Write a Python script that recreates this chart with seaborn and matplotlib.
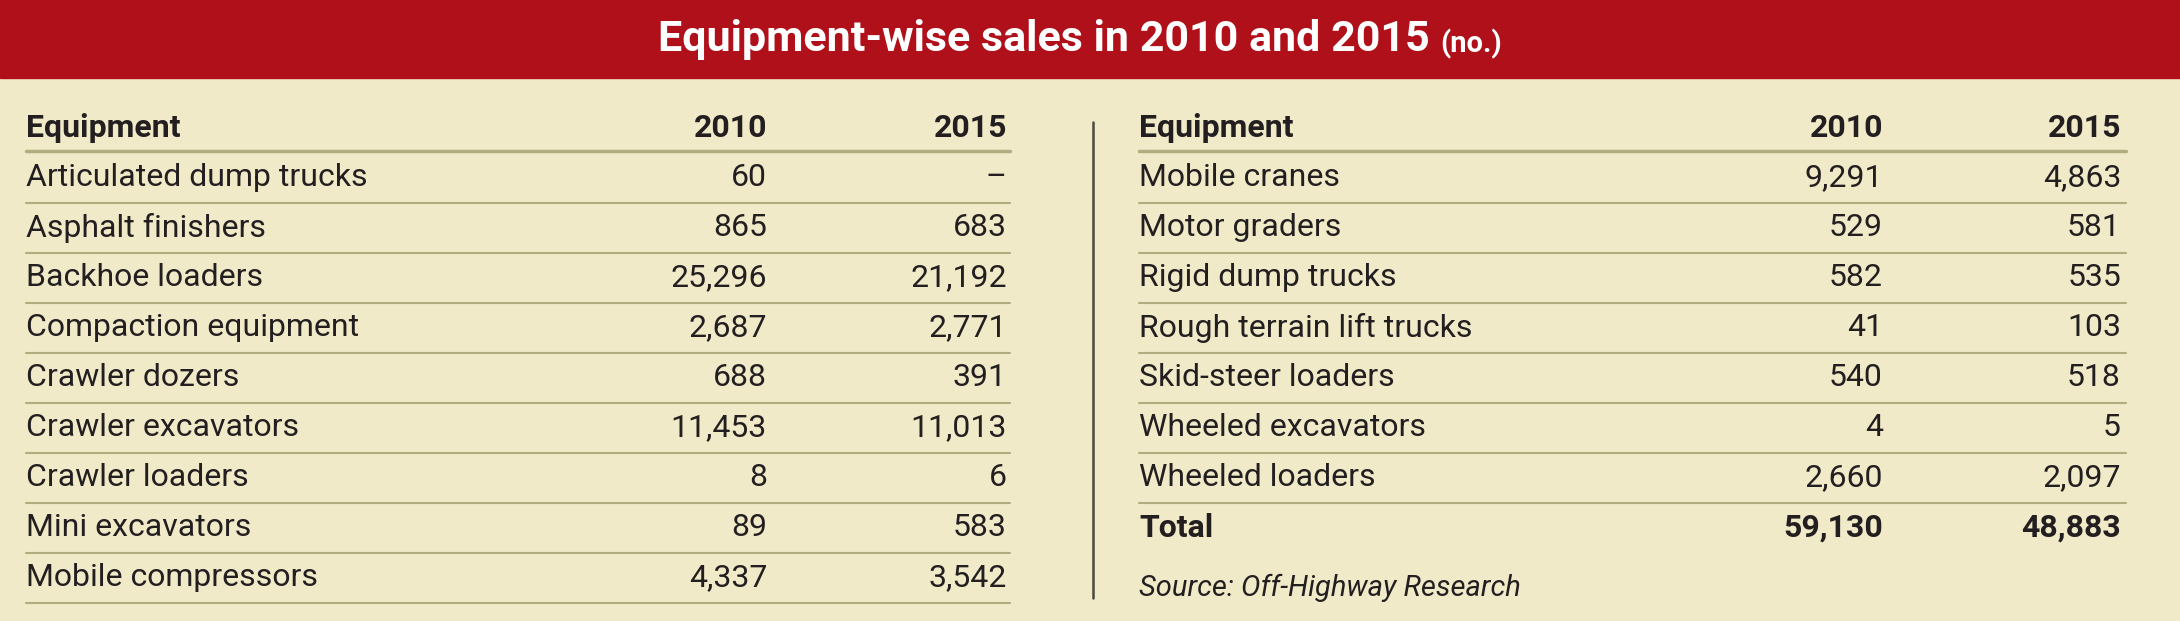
import matplotlib.pyplot as plt
import seaborn as sns
from matplotlib.patches import Rectangle

left_items = ['Articulated dump trucks', 'Asphalt finishers', 'Backhoe loaders',
              'Compaction equipment', 'Crawler dozers', 'Crawler excavators',
              'Crawler loaders', 'Mini excavators', 'Mobile compressors']
left_2010 = ['60', '865', '25,296', '2,687', '688', '11,453', '8', '89', '4,337']
left_2015 = ['–', '683', '21,192', '2,771', '391', '11,013', '6', '583', '3,542']

right_items = ['Mobile cranes', 'Motor graders', 'Rigid dump trucks',
               'Rough terrain lift trucks', 'Skid-steer loaders',
               'Wheeled excavators', 'Wheeled loaders']
right_2010 = ['9,291', '529', '582', '41', '540', '4', '2,660']
right_2015 = ['4,863', '581', '535', '103', '518', '5', '2,097']
total = ('Total', '59,130', '48,883')

sns.set_theme(style='white')
plt.rcParams['font.family'] = ['Liberation Sans Narrow', 'Roboto', 'DejaVu Sans']

W, H = 2180, 621
bg = '#F0EAC8'
red = '#B0101A'
rule = '#B2AD80'
ink = '#231F20'

fig = plt.figure(figsize=(W / 100, H / 100), dpi=100)
ax = fig.add_axes([0, 0, 1, 1])
ax.set_xlim(0, W)
ax.set_ylim(H, 0)
ax.axis('off')
fig.patch.set_facecolor(bg)

ax.add_patch(Rectangle((0, 0), W, 78, color=red, zorder=1))
ax.text(1430, 40, 'Equipment-wise sales in 2010 and 2015', color='white', fontsize=31,
        fontweight='bold', ha='right', va='center')
ax.text(1440, 44, '(no.)', color='white', fontsize=21, fontweight='bold', ha='left', va='center')

fs = 23
row_h = 50
y0 = 128


def draw_table(x0, x1, c1, c2, items, v1, v2, total_row=None):
    ax.text(x0, y0, 'Equipment', fontsize=fs, fontweight='bold', color=ink, va='center')
    ax.text(c1, y0, '2010', fontsize=fs, fontweight='bold', color=ink, va='center', ha='right')
    ax.text(c2, y0, '2015', fontsize=fs, fontweight='bold', color=ink, va='center', ha='right')
    ax.plot([x0, x1], [y0 + 23, y0 + 23], color=rule, lw=2.5)
    for i, (name, a, b) in enumerate(zip(items, v1, v2)):
        y = y0 + (i + 1) * row_h
        ax.text(x0, y, name, fontsize=fs, color=ink, va='center')
        ax.text(c1, y, a, fontsize=fs, color=ink, va='center', ha='right')
        ax.text(c2, y, b, fontsize=fs, color=ink, va='center', ha='right')
        ax.plot([x0, x1], [y + 25, y + 25], color=rule, lw=1.5)
    if total_row:
        y = y0 + (len(items) + 1) * row_h
        for x, s, ha in [(x0, total_row[0], 'left'), (c1, total_row[1], 'right'), (c2, total_row[2], 'right')]:
            ax.text(x, y, s, fontsize=fs, fontweight='bold', color=ink, va='center', ha=ha)
        ax.text(x0, y + 60, 'Source: Off-Highway Research', fontsize=fs - 2, style='italic',
                color=ink, va='center')


draw_table(26, 1010, 767, 1007, left_items, left_2010, left_2015)
draw_table(1139, 2126, 1883, 2121, right_items, right_2010, right_2015, total)
ax.plot([1093, 1093], [122, 598], color='#4a4a40', lw=1.8)

fig.savefig('out.png', dpi=100, facecolor=bg)
